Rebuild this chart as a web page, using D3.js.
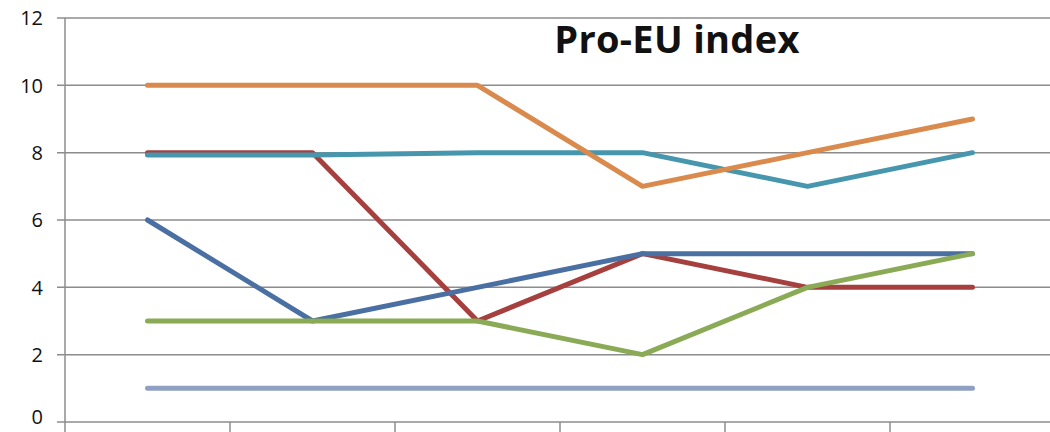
<!DOCTYPE html>
<html><head><meta charset="utf-8">
<script src="https://cdn.jsdelivr.net/npm/d3@7"></script>
<style>body{margin:0;background:#fff;overflow:hidden}</style>
</head><body>
<svg id="c" width="1050" height="432"></svg>
<script>
const categories = ["1","2","3","4","5","6"];
const yTicks = [0,2,4,6,8,10,12];
const redVals = [8,8,3,5,4,4];
const tealVals = [7.93,7.93,8,8,7,8];
const orangeVals = [10,10,10,7,8,9];
const blueVals = [6,3,4,5,5,5];
const greenVals = [3,3,3,2,4,5];
const lavenderVals = [1,1,1,1,1,1];
const series = [
  {name:"lavender", values:lavenderVals, color:"#8fa0c2"},
  {name:"red", values:redVals, color:"#a5403f"},
  {name:"blue", values:blueVals, color:"#4a6fa3"},
  {name:"green", values:greenVals, color:"#8aaa55"},
  {name:"teal", values:tealVals, color:"#4696ae"},
  {name:"orange", values:orangeVals, color:"#d98a4c"}
];
const svg = d3.select("#c");
const x = d3.scaleBand().domain(categories).range([65,1055]);
const y = d3.scaleLinear().domain([0,12]).range([422,18]);
svg.append("g").selectAll("line").data(yTicks).join("line")
  .attr("x1",57).attr("x2",1050).attr("y1",d=>y(d)).attr("y2",d=>y(d))
  .attr("stroke","#8c8c8c").attr("stroke-width",1.5);
svg.append("line").attr("x1",65).attr("x2",65).attr("y1",18).attr("y2",422).attr("stroke","#8c8c8c").attr("stroke-width",1.5);
svg.append("g").selectAll("line").data(categories.concat(["7"])).join("line")
  .attr("x1",(d,i)=>65+i*x.bandwidth()).attr("x2",(d,i)=>65+i*x.bandwidth())
  .attr("y1",422).attr("y2",432).attr("stroke","#8c8c8c").attr("stroke-width",1.5);
svg.append("g").selectAll("text").data(yTicks).join("text")
  .attr("x",43).attr("y",d=>Math.min(y(d),417)).attr("dy","0.36em").attr("text-anchor","end")
  .attr("font-family","Open Sans, sans-serif").attr("font-size",20).attr("fill","#111")
  .text(d=>d);
const line = d3.line().x((d,i)=>x(categories[i])+x.bandwidth()/2).y(d=>y(d));
svg.append("g").selectAll("path").data(series).join("path")
  .attr("d",d=>line(d.values)).attr("fill","none").attr("stroke",d=>d.color)
  .attr("stroke-width",5).attr("stroke-linejoin","round").attr("stroke-linecap","round");
svg.append("text").attr("x",677).attr("y",53).attr("text-anchor","middle")
  .attr("font-family","Open Sans, sans-serif").attr("font-weight","bold").attr("font-size",38).attr("fill","#111")
  .attr("letter-spacing","0.3").text("Pro-EU index");
</script>
</body></html>
